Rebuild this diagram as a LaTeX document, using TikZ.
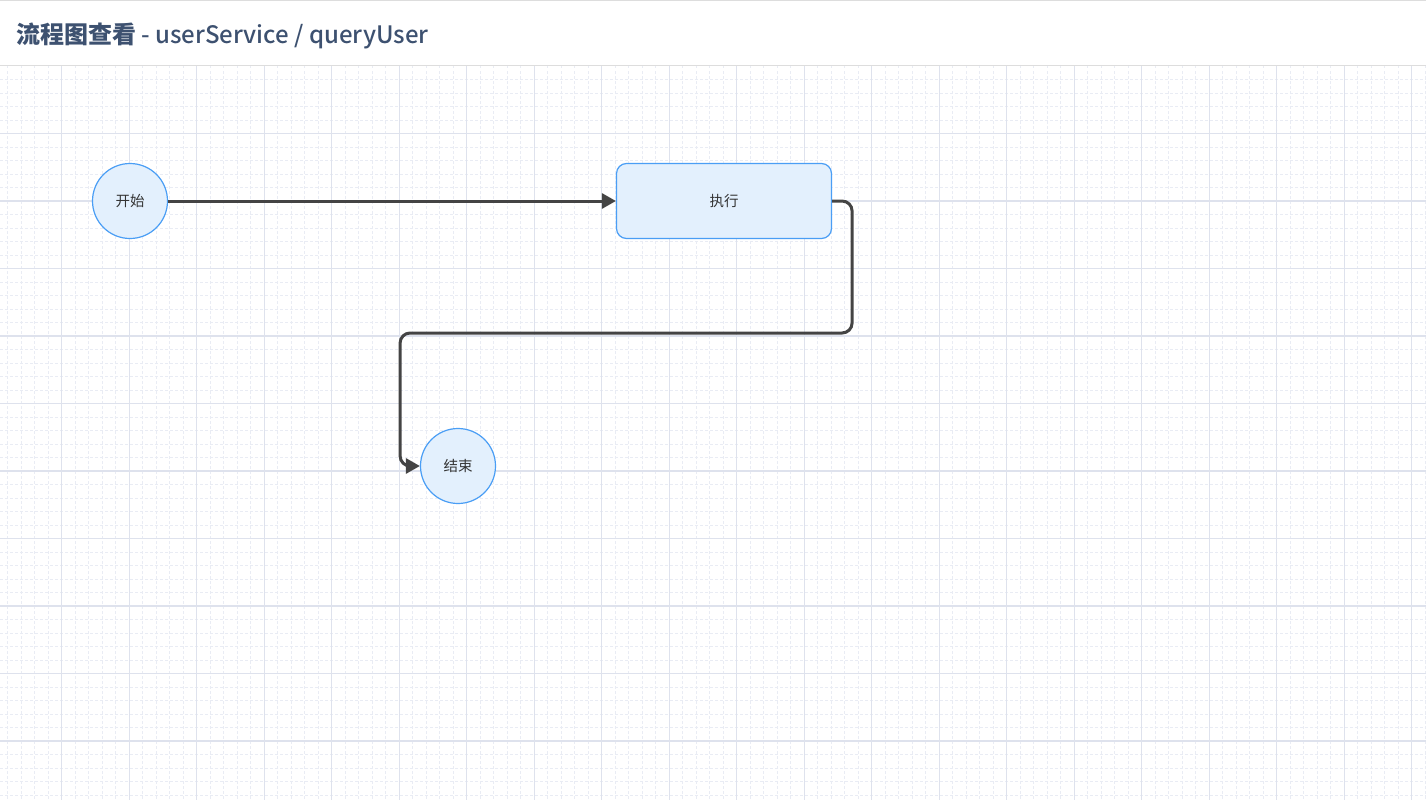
\documentclass[tikz,border=0pt]{standalone}
\usepackage{fontspec}
\setmainfont{Noto Sans CJK SC}
\newfontfamily\cjk{Noto Sans CJK SC}
\newfontfamily\cjkmed{Noto Sans CJK SC Medium}
\usetikzlibrary{arrows.meta}
\definecolor{nodefill}{HTML}{E3F0FD}
\definecolor{nodeborder}{HTML}{4A9EF5}
\definecolor{gridmajor}{HTML}{DEE2ED}
\definecolor{gridminor}{HTML}{E9ECF4}
\definecolor{titlecol}{HTML}{3D5170}
\definecolor{edgecol}{HTML}{444444}
\definecolor{textcol}{HTML}{333333}
\definecolor{barline}{HTML}{DDDDDD}
\tikzset{
  circnode/.style={circle, draw=nodeborder, fill=nodefill, line width=1.2pt, minimum size=75pt, inner sep=0pt, text=textcol, font=\cjk\fontsize{14.5}{16}\selectfont},
  procnode/.style={rectangle, rounded corners=10pt, draw=nodeborder, fill=nodefill, line width=1.2pt, minimum width=215pt, minimum height=75pt, inner sep=0pt, text=textcol, font=\cjk\fontsize{14.5}{16}\selectfont},
  flow/.style={draw=edgecol, line width=3pt, -{Triangle[length=14pt,width=15pt]}},
  minorline/.style={gridminor, line width=1pt, dash pattern=on 2.5pt off 2.5pt},
  majorline/.style={gridmajor, line width=1.2pt},
}
\begin{document}
\begin{tikzpicture}[x=1pt,y=-1pt]
\useasboundingbox (0,0) rectangle (1426,800);
\fill[white] (0,0) rectangle (1426,800);
% grid minor
\foreach \i in {-4,...,101} {
  \pgfmathsetmacro\xx{61.7+13.5*\i}
  \draw[minorline] (\xx,66) -- (\xx,800);
}
\foreach \j in {1,...,55} {
  \pgfmathsetmacro\yy{66+13.5*\j}
  \draw[minorline] (0,\yy) -- (1426,\yy);
}
% grid major
\foreach \i in {0,...,20} {
  \pgfmathsetmacro\xx{61.7+67.5*\i}
  \draw[majorline] (\xx,66) -- (\xx,800);
}
\foreach \j in {1,...,11} {
  \pgfmathsetmacro\yy{66+67.5*\j}
  \draw[majorline] (0,\yy) -- (1426,\yy);
}
% title bar
\fill[white] (0,0) rectangle (1426,65.5);
\draw[barline, line width=1.5pt] (0,0.75) -- (1426,0.75);
\draw[barline, line width=1.2pt] (0,65.5) -- (1426,65.5);
\node[anchor=base west, inner sep=0pt, text=titlecol, font=\cjkmed\fontsize{24}{28}\selectfont] (title) at (16,44) {{\cjk\bfseries 流程图查看} - userService / queryUser};
% nodes
\node[circnode] (start) at (130,201) {开始};
\node[procnode] (exec) at (724,201) {执行};
\node[circnode] (end) at (458,466) {结束};
% edges
\draw[flow] (start) -- (exec);
\draw[flow, rounded corners=10pt] (exec.east) -- ++(20,0) -- ++(0,132) -- ++(-452,0) |- (end.west);
\end{tikzpicture}
\end{document}
